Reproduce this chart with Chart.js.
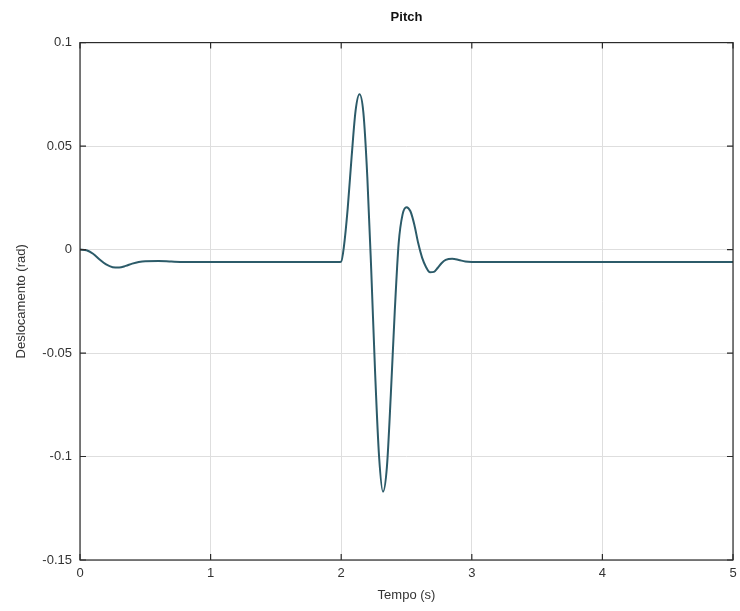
<!DOCTYPE html>
<html>
<head>
<meta charset="utf-8">
<script src="https://cdn.jsdelivr.net/npm/chart.js@4/dist/chart.umd.min.js"></script>
<style>
  html, body { margin: 0; padding: 0; background: #fff; }
  #wrap { width: 740px; height: 611px; }
</style>
</head>
<body>
<div id="wrap"><canvas id="pitchChart"></canvas></div>
<script>
// time (s) and pitch displacement (rad)
var tempo = [0, 0.05, 0.1, 0.15, 0.2, 0.25, 0.3, 0.35, 0.4, 0.45, 0.5, 0.6, 0.7, 0.8, 1.0, 1.5, 1.98,
    2.0, 2.02, 2.05, 2.08, 2.11, 2.14, 2.17, 2.2, 2.23, 2.26, 2.29, 2.32, 2.35, 2.38, 2.41, 2.44,
    2.47, 2.5, 2.53, 2.56, 2.59, 2.62, 2.65, 2.68, 2.71, 2.74, 2.77, 2.8, 2.85, 2.9, 2.95, 3.0, 4.0, 5.0];
var pitch = [0, -0.0003, -0.002, -0.0048, -0.0072, -0.0085, -0.0087, -0.0079, -0.0068, -0.006, -0.0056, -0.0055, -0.0058, -0.006, -0.006, -0.006, -0.006,
    -0.0058, 0.001, 0.02, 0.045, 0.067, 0.075, 0.066, 0.035, -0.01, -0.06, -0.1, -0.117, -0.105, -0.07, -0.03, 0.003,
    0.017, 0.0205, 0.0185, 0.012, 0.003, -0.004, -0.0085, -0.011, -0.0108, -0.0088, -0.0065, -0.005, -0.0044, -0.005, -0.0058, -0.006, -0.006, -0.006];
var xTicks = [0, 1, 2, 3, 4, 5];
var yTicks = [-0.15, -0.1, -0.05, 0, 0.05, 0.1];

var points = tempo.map(function (t, i) { return { x: t, y: pitch[i] }; });

// box around the plot with small inward ticks, octave style
var boxPlugin = {
    id: 'box',
    afterDatasetsDraw: function (chart) {
        var a = chart.chartArea, c = chart.ctx;
        var xs = chart.scales.x, ys = chart.scales.y;
        c.save();
        c.strokeStyle = '#2b2b2b';
        c.lineWidth = 1.2;
        c.strokeRect(a.left, a.top, a.right - a.left, a.bottom - a.top);
        c.beginPath();
        xTicks.forEach(function (v) {
            var px = xs.getPixelForValue(v);
            c.moveTo(px, a.bottom); c.lineTo(px, a.bottom - 6);
            c.moveTo(px, a.top); c.lineTo(px, a.top + 6);
        });
        yTicks.forEach(function (v) {
            var py = ys.getPixelForValue(v);
            c.moveTo(a.left, py); c.lineTo(a.left + 6, py);
            c.moveTo(a.right, py); c.lineTo(a.right - 6, py);
        });
        c.stroke();
        c.restore();
    }
};

Chart.defaults.font.family = '"Liberation Sans", Arial, sans-serif';
Chart.defaults.font.size = 13;
Chart.defaults.color = '#333';

var ctx = document.getElementById('pitchChart').getContext('2d');
var pitchChart = new Chart(ctx, {
    type: 'line',
    data: {
        datasets: [{
            label: 'Pitch',
            data: points,
            borderColor: '#2c5b69',
            borderWidth: 2,
            pointRadius: 0,
            cubicInterpolationMode: 'monotone',
            fill: false
        }]
    },
    options: {
        responsive: true,
        maintainAspectRatio: false,
        animation: false,
        layout: { padding: { left: 0, right: 7, top: 0, bottom: 0 } },
        plugins: {
            legend: { display: false },
            tooltip: { enabled: false },
            title: {
                display: true,
                fullSize: false,
                text: 'Pitch',
                color: '#111',
                font: { size: 13, weight: 'bold' },
                padding: { top: 10, bottom: 17 }
            }
        },
        scales: {
            x: {
                type: 'linear',
                min: 0,
                max: 5,
                afterBuildTicks: function (s) { s.ticks = xTicks.map(function (v) { return { value: v }; }); },
                afterFit: function (s) { s.height = 51; s.paddingLeft = 0; s.paddingRight = 0; },
                grid: { color: '#dedede', drawTicks: false },
                border: { display: false },
                ticks: { padding: 6, color: '#333', maxRotation: 0, callback: function (v) { return String(v); } },
                title: { display: true, text: 'Tempo (s)', color: '#333', padding: { top: 2, bottom: 8 } }
            },
            y: {
                type: 'linear',
                min: -0.15,
                max: 0.1,
                afterBuildTicks: function (s) { s.ticks = yTicks.map(function (v) { return { value: v }; }); },
                afterFit: function (s) { s.width = 80; },
                grid: { color: '#dedede', drawTicks: false },
                border: { display: false },
                ticks: { padding: 8, color: '#333', callback: function (v) { return String(v); } },
                title: { display: true, text: 'Deslocamento (rad)', color: '#333', padding: { top: 14, bottom: 0 } }
            }
        }
    },
    plugins: [boxPlugin]
});
</script>
</body>
</html>
